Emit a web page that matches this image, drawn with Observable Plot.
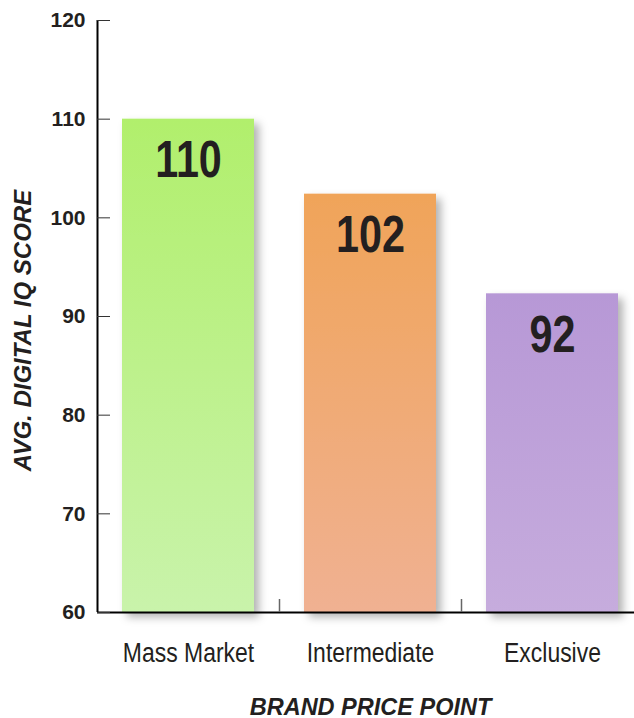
<!DOCTYPE html>
<html><head><meta charset="utf-8">
<script src="https://cdn.jsdelivr.net/npm/d3@7"></script>
<script src="https://cdn.jsdelivr.net/npm/@observablehq/plot@0.6"></script>
<style>
html,body{margin:0;padding:0;background:#fff;}
</style></head><body><div id="chart"></div>
<script>
const categories = ["Mass Market", "Intermediate", "Exclusive"];
const scores = [110, 102.4, 92.3];
const scoreLabels = ["110", "102", "92"];
const yTicks = [60, 70, 80, 90, 100, 110, 120];
const gradientTop = ["#b1ef6c", "#f0a459", "#b798d6"];
const gradientBottom = ["#c9f3ab", "#f0b192", "#c6acdd"];
const yLabel = "AVG. DIGITAL IQ SCORE";
const xLabel = "BRAND PRICE POINT";

const data = categories.map((c, i) => ({category: c, score: scores[i], label: scoreLabels[i], fill: `url(#grad${i})`}));

const width = 634, height = 718, marginLeft = 97, marginRight = -9, marginTop = 20, marginBottom = 106;
const step = (width - marginRight - marginLeft) / categories.length;
const textColor = "#231f20";
const sans = "'Liberation Sans', Arial, Helvetica, sans-serif";

const plot = Plot.plot({
  width, height, marginLeft, marginRight, marginTop, marginBottom,
  style: {fontFamily: sans, color: textColor, background: "#fff", overflow: "hidden"},
  x: {domain: categories, paddingInner: 50 / 182, paddingOuter: 25 / 182},
  y: {domain: [60, 120]},
  color: {type: "identity"},
  marks: [
    Plot.barY(data, {x: "category", y1: 60, y2: "score", fill: "fill"}),
    Plot.ruleY([60], {stroke: "#000", strokeWidth: 2}),
    Plot.ruleX([categories[0]], {x: d => d, y1: 60, y2: 120, dx: -step / 2, stroke: "#000", strokeWidth: 2}),
    Plot.ruleX(categories.slice(0, 2), {x: d => d, y1: 60, y2: 60, insetBottom: 13, dx: step / 2, stroke: "#666", strokeWidth: 1.5}),
    Plot.axisY({ticks: yTicks, tickSize: 0, tickPadding: 12, fontWeight: "bold", fontSize: 21, label: null}),
    Plot.axisY({ticks: yTicks, tickSize: 13, dx: 13, tickFormat: () => "", stroke: "#333", label: null}),
    Plot.axisX({tickSize: 0, tickPadding: 30, fontSize: 27, label: null}),
    Plot.text(data, {x: "category", y: "score", text: "label", dy: 58, lineAnchor: "bottom", fontSize: 51, fontWeight: "bold", fill: textColor}),
    Plot.text([yLabel], {frameAnchor: "left", textAnchor: "middle", dx: -74, dy: 14, rotate: -90, fontSize: 24, fontWeight: "bold", fontStyle: "italic", fill: textColor}),
    Plot.text([xLabel], {frameAnchor: "bottom", dy: 102, lineAnchor: "bottom", fontSize: 23.5, fontWeight: "bold", fontStyle: "italic", fill: textColor})
  ]
});

const svg = d3.select(plot);
const defs = svg.insert("defs", ":first-child");
categories.forEach((c, i) => {
  const g = defs.append("linearGradient").attr("id", `grad${i}`).attr("x1", 0).attr("y1", 0).attr("x2", 0).attr("y2", 1);
  g.append("stop").attr("offset", "0%").attr("stop-color", gradientTop[i]);
  g.append("stop").attr("offset", "100%").attr("stop-color", gradientBottom[i]);
});
const f = defs.append("filter").attr("id", "shadow").attr("x", "-20%").attr("y", "-20%").attr("width", "150%").attr("height", "150%");
f.append("feDropShadow").attr("dx", 5).attr("dy", 5).attr("stdDeviation", 4).attr("flood-color", "#000").attr("flood-opacity", 0.3);
svg.selectAll('g[aria-label="bar"] rect').attr("filter", "url(#shadow)");

// horizontally condense text to mimic a condensed typeface
function squeeze(group, s) {
  if (!group) return;
  d3.select(group).selectAll("text").each(function() {
    const t = d3.select(this);
    const tr = t.attr("transform");
    if (tr) t.attr("transform", `${tr} scale(${s},1)`);
    else {
      const x = +t.attr("x") || 0, y = +t.attr("y") || 0;
      t.attr("transform", `translate(${x},${y}) scale(${s},1)`).attr("x", null).attr("y", null);
    }
  });
}
squeeze(svg.select('g[aria-label="x-axis tick label"]').node(), 0.85);
squeeze(svg.selectAll('g[aria-label="text"]').nodes()[0], 0.81);

document.getElementById("chart").appendChild(plot);
</script>
</body></html>
